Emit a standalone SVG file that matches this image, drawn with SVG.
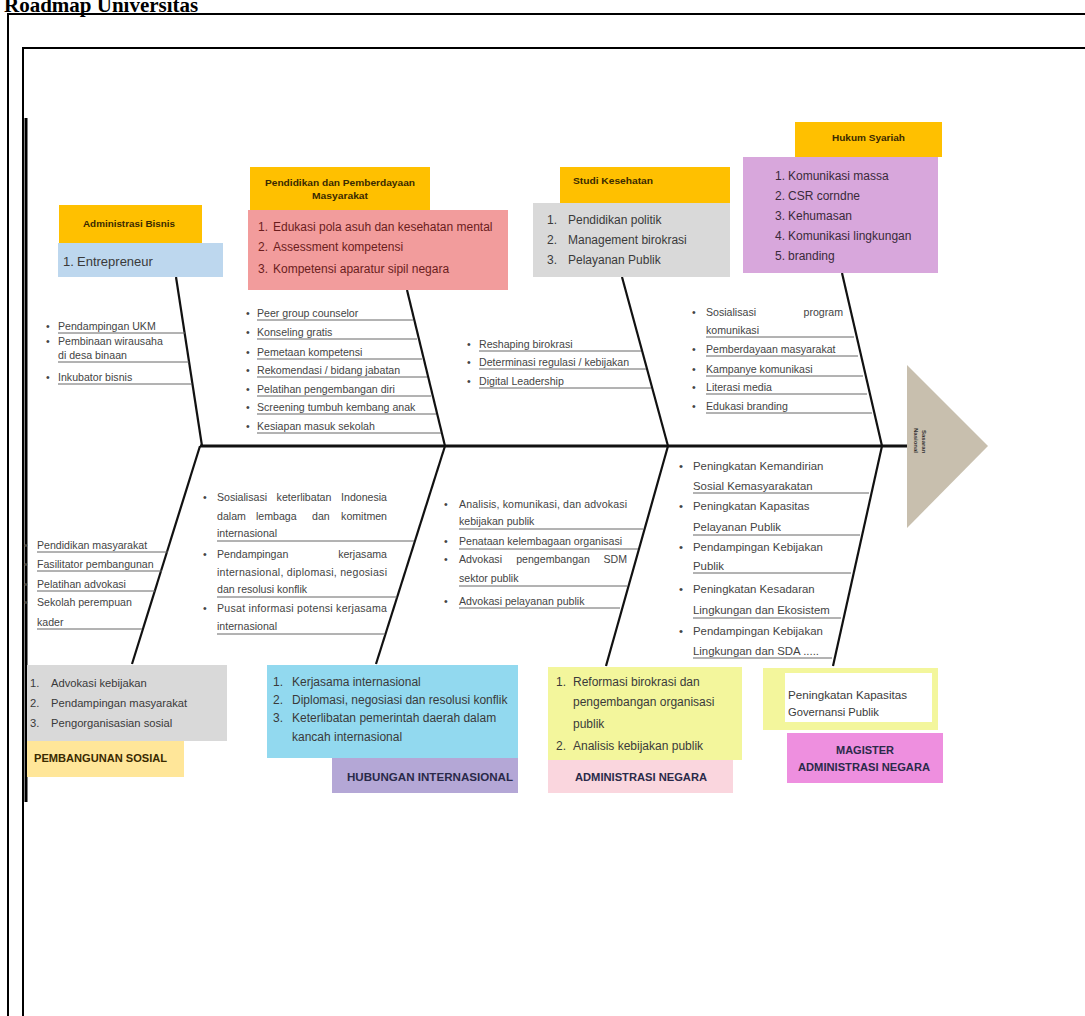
<svg xmlns="http://www.w3.org/2000/svg" width="1085" height="1016" viewBox="0 0 1085 1016">
<style>
text{font-family:"Liberation Sans",Arial,sans-serif;}
.ttl{font-family:"Liberation Serif","Times New Roman",serif;font-weight:bold;font-size:21px;fill:#000;}
.frame{fill:none;stroke:#000;stroke-width:2;}
.bone{stroke:#111;stroke-width:2.2;fill:none;}
.spine{stroke:#111;stroke-width:3;}
.u{stroke:#666;stroke-width:1;}
.s{font-size:10.6px;fill:#444;}
.m{font-size:11.4px;fill:#444;}
.bi{font-size:12px;fill:#3a3a3a;}
.bs{font-size:11.2px;fill:#3a3a3a;}
.lab{font-size:8.5px;font-weight:bold;fill:#3a2a00;}
.big{font-size:11px;font-weight:bold;fill:#2a2a4a;}
</style>
<text class="ttl" x="4" y="12">Roadmap Universitas</text>
<rect class="frame" x="8" y="14" width="1090" height="1020"/>
<rect class="frame" x="23" y="48" width="1075" height="980"/>
<line x1="26" y1="118" x2="26" y2="802" stroke="#000" stroke-width="3"/>

<g id="connectors">
<line class="spine" x1="200" y1="446" x2="907" y2="446"/>
<line class="bone" x1="176" y1="277" x2="202" y2="446"/>
<line class="bone" x1="407" y1="290" x2="445" y2="446"/>
<line class="bone" x1="622" y1="277" x2="668" y2="446"/>
<line class="bone" x1="842" y1="273" x2="882" y2="446"/>
<line class="bone" x1="200" y1="446" x2="132" y2="664"/>
<line class="bone" x1="445" y1="446" x2="376" y2="664"/>
<line class="bone" x1="668" y1="446" x2="606" y2="666"/>
<line class="bone" x1="882" y1="446" x2="833" y2="666"/>
</g>

<g id="head">
<polygon points="907,365 988,446 907,528" fill="#c8bfae"/>
<text transform="translate(922,430) rotate(90)" style="font-size:6px;font-weight:bold;fill:#333">Sasaran</text>
<text transform="translate(914,428) rotate(90)" style="font-size:6px;font-weight:bold;fill:#333">Nasional</text>
</g>

<g id="node-administrasi-bisnis">
<rect x="59" y="205" width="143" height="38" fill="#ffc000"/>
<text class="lab" x="83" y="227" textLength="92" lengthAdjust="spacingAndGlyphs">Administrasi Bisnis</text>
<rect x="58" y="243" width="165" height="34" fill="#bdd7ee"/>
<text class="bi" x="63" y="266" style="font-size:13px">1.</text><text class="bi" x="77" y="266" style="font-size:13px">Entrepreneur</text>
</g>
<g id="items-administrasi-bisnis">
<text class="s" x="46" y="330">•</text><text class="s" x="58" y="330">Pendampingan UKM</text>
<line class="u" x1="58" y1="333" x2="185" y2="333"/>
<text class="s" x="46" y="345">•</text><text class="s" x="58" y="345">Pembinaan wirausaha</text>
<text class="s" x="58" y="359">di desa binaan</text>
<line class="u" x1="58" y1="362" x2="189" y2="362"/>
<text class="s" x="46" y="381">•</text><text class="s" x="58" y="381">Inkubator bisnis</text>
<line class="u" x1="58" y1="384" x2="192" y2="384"/>
</g>

<g id="node-pendidikan">
<rect x="250" y="167" width="180" height="43" fill="#ffc000"/>
<text class="lab" x="265" y="186" textLength="150" lengthAdjust="spacingAndGlyphs">Pendidikan dan Pemberdayaan</text>
<text class="lab" x="312" y="199" textLength="56" lengthAdjust="spacingAndGlyphs">Masyarakat</text>
<rect x="248" y="210" width="260" height="80" fill="#f29c9c"/>
<text class="bi" x="258" y="231" style="fill:#6b1d1d">1.</text><text class="bi" x="273" y="231" style="fill:#6b1d1d">Edukasi pola asuh dan kesehatan mental</text>
<text class="bi" x="258" y="251" style="fill:#6b1d1d">2.</text><text class="bi" x="273" y="251" style="fill:#6b1d1d">Assessment kompetensi</text>
<text class="bi" x="258" y="273" style="fill:#6b1d1d">3.</text><text class="bi" x="273" y="273" style="fill:#6b1d1d">Kompetensi aparatur sipil negara</text>
</g>
<g id="items-pendidikan">
<text class="s" x="246" y="317">•</text><text class="s" x="257" y="317">Peer group counselor</text>
<line class="u" x1="257" y1="320" x2="413" y2="320"/>
<text class="s" x="246" y="336">•</text><text class="s" x="257" y="336">Konseling gratis</text>
<line class="u" x1="257" y1="339" x2="417" y2="339"/>
<text class="s" x="246" y="356">•</text><text class="s" x="257" y="356">Pemetaan kompetensi</text>
<line class="u" x1="257" y1="359" x2="422" y2="359"/>
<text class="s" x="246" y="374">•</text><text class="s" x="257" y="374">Rekomendasi / bidang jabatan</text>
<line class="u" x1="257" y1="377" x2="427" y2="377"/>
<text class="s" x="246" y="393">•</text><text class="s" x="257" y="393">Pelatihan pengembangan diri</text>
<line class="u" x1="257" y1="396" x2="431" y2="396"/>
<text class="s" x="246" y="411">•</text><text class="s" x="257" y="411">Screening tumbuh kembang anak</text>
<line class="u" x1="257" y1="414" x2="436" y2="414"/>
<text class="s" x="246" y="430">•</text><text class="s" x="257" y="430">Kesiapan masuk sekolah</text>
<line class="u" x1="257" y1="433" x2="441" y2="433"/>
</g>

<g id="node-studi-kesehatan">
<rect x="560" y="167" width="170" height="36" fill="#ffc000"/>
<text class="lab" x="573" y="184" textLength="80" lengthAdjust="spacingAndGlyphs">Studi Kesehatan</text>
<rect x="533" y="203" width="197" height="74" fill="#d9d9d9"/>
<text class="bi" x="547" y="224">1.</text><text class="bi" x="568" y="224">Pendidikan politik</text>
<text class="bi" x="547" y="244">2.</text><text class="bi" x="568" y="244">Management birokrasi</text>
<text class="bi" x="547" y="264">3.</text><text class="bi" x="568" y="264">Pelayanan Publik</text>
</g>
<g id="items-studi-kesehatan">
<text class="s" x="467" y="348">•</text><text class="s" x="479" y="348">Reshaping birokrasi</text>
<line class="u" x1="479" y1="351" x2="641" y2="351"/>
<text class="s" x="467" y="366">•</text><text class="s" x="479" y="366">Determinasi regulasi / kebijakan</text>
<line class="u" x1="479" y1="369" x2="646" y2="369"/>
<text class="s" x="467" y="385">•</text><text class="s" x="479" y="385">Digital Leadership</text>
<line class="u" x1="479" y1="388" x2="651" y2="388"/>
</g>

<g id="node-hukum-syariah">
<rect x="795" y="122" width="147" height="35" fill="#ffc000"/>
<text class="lab" x="832" y="141" textLength="73" lengthAdjust="spacingAndGlyphs">Hukum Syariah</text>
<rect x="743" y="157" width="195" height="116" fill="#d8a7dc"/>
<text class="bi" x="775" y="180" style="fill:#3a2a3a">1.</text><text class="bi" x="788" y="180" style="fill:#3a2a3a">Komunikasi massa</text>
<text class="bi" x="775" y="200" style="fill:#3a2a3a">2.</text><text class="bi" x="788" y="200" style="fill:#3a2a3a">CSR corndne</text>
<text class="bi" x="775" y="220" style="fill:#3a2a3a">3.</text><text class="bi" x="788" y="220" style="fill:#3a2a3a">Kehumasan</text>
<text class="bi" x="775" y="240" style="fill:#3a2a3a">4.</text><text class="bi" x="788" y="240" style="fill:#3a2a3a">Komunikasi lingkungan</text>
<text class="bi" x="775" y="260" style="fill:#3a2a3a">5.</text><text class="bi" x="788" y="260" style="fill:#3a2a3a">branding</text>
</g>
<g id="items-hukum-syariah">
<text class="s" x="692" y="316">•</text><text class="s" x="706" y="316">Sosialisasi</text><text class="s" x="843" y="316" text-anchor="end">program</text>
<text class="s" x="706" y="334">komunikasi</text>
<line class="u" x1="706" y1="337" x2="854" y2="337"/>
<text class="s" x="692" y="353">•</text><text class="s" x="706" y="353">Pemberdayaan masyarakat</text>
<line class="u" x1="706" y1="356" x2="858" y2="356"/>
<text class="s" x="692" y="373">•</text><text class="s" x="706" y="373">Kampanye komunikasi</text>
<line class="u" x1="706" y1="376" x2="863" y2="376"/>
<text class="s" x="692" y="391">•</text><text class="s" x="706" y="391">Literasi media</text>
<line class="u" x1="706" y1="394" x2="867" y2="394"/>
<text class="s" x="692" y="410">•</text><text class="s" x="706" y="410">Edukasi branding</text>
<line class="u" x1="706" y1="413" x2="872" y2="413"/>
</g>

<g id="items-pembangunan-sosial">
<text class="s" x="24" y="549">•</text><text class="s" x="37" y="549">Pendidikan masyarakat</text>
<line class="u" x1="37" y1="552" x2="168" y2="552"/>
<text class="s" x="24" y="568">•</text><text class="s" x="37" y="568">Fasilitator pembangunan</text>
<line class="u" x1="37" y1="571" x2="162" y2="571"/>
<text class="s" x="24" y="588">•</text><text class="s" x="37" y="588">Pelatihan advokasi</text>
<line class="u" x1="37" y1="591" x2="155" y2="591"/>
<text class="s" x="24" y="606">•</text><text class="s" x="37" y="606">Sekolah perempuan</text>
<text class="s" x="37" y="626">kader</text>
<line class="u" x1="37" y1="629" x2="142" y2="629"/>
</g>
<g id="node-pembangunan-sosial">
<rect x="27" y="665" width="200" height="76" fill="#d9d9d9"/>
<text class="bs" x="30" y="687">1.</text><text class="bs" x="51" y="687">Advokasi kebijakan</text>
<text class="bs" x="30" y="707">2.</text><text class="bs" x="51" y="707">Pendampingan masyarakat</text>
<text class="bs" x="30" y="727">3.</text><text class="bs" x="51" y="727">Pengorganisasian sosial</text>
<rect x="27" y="741" width="157" height="36" fill="#ffe699"/>
<text class="big" x="34" y="762" style="fill:#3a2a00" textLength="133" lengthAdjust="spacingAndGlyphs">PEMBANGUNAN SOSIAL</text>
</g>

<g id="items-hubungan-internasional">
<text class="s" x="203" y="501">•</text><text class="s" x="217" y="501">Sosialisasi</text><text class="s" x="304" y="501" text-anchor="middle">keterlibatan</text><text class="s" x="387" y="501" text-anchor="end">Indonesia</text>
<text class="s" x="217" y="520">dalam</text><text class="s" x="256" y="520">lembaga</text><text class="s" x="312" y="520">dan</text><text class="s" x="387" y="520" text-anchor="end">komitmen</text>
<text class="s" x="217" y="537">internasional</text>
<line class="u" x1="217" y1="541" x2="414" y2="541"/>
<text class="s" x="203" y="558">•</text><text class="s" x="217" y="558">Pendampingan</text><text class="s" x="387" y="558" text-anchor="end">kerjasama</text>
<text class="s" x="217" y="576" textLength="170" lengthAdjust="spacing">internasional, diplomasi, negosiasi</text>
<text class="s" x="217" y="593">dan resolusi konflik</text>
<line class="u" x1="217" y1="597" x2="397" y2="597"/>
<text class="s" x="203" y="612">•</text><text class="s" x="217" y="612" textLength="170" lengthAdjust="spacing">Pusat informasi potensi kerjasama</text>
<text class="s" x="217" y="630">internasional</text>
<line class="u" x1="217" y1="634" x2="385" y2="634"/>
</g>
<g id="node-hubungan-internasional">
<rect x="267" y="665" width="251" height="93" fill="#92d9ef"/>
<text class="bi" x="273" y="686">1.</text><text class="bi" x="292" y="686">Kerjasama internasional</text>
<text class="bi" x="273" y="704">2.</text><text class="bi" x="292" y="704">Diplomasi, negosiasi dan resolusi konflik</text>
<text class="bi" x="273" y="722">3.</text><text class="bi" x="292" y="722">Keterlibatan pemerintah daerah dalam</text>
<text class="bi" x="292" y="741">kancah internasional</text>
<rect x="332" y="758" width="186" height="35" fill="#b4a7d6"/>
<text class="big" x="347" y="781" textLength="166" lengthAdjust="spacingAndGlyphs">HUBUNGAN INTERNASIONAL</text>
</g>

<g id="items-administrasi-negara">
<text class="s" x="444" y="508">•</text><text class="s" x="459" y="508" textLength="168" lengthAdjust="spacing">Analisis, komunikasi, dan advokasi</text>
<text class="s" x="459" y="525">kebijakan publik</text>
<line class="u" x1="459" y1="529" x2="643" y2="529"/>
<text class="s" x="444" y="545">•</text><text class="s" x="459" y="545">Penataan kelembagaan organisasi</text>
<line class="u" x1="459" y1="549" x2="638" y2="549"/>
<text class="s" x="444" y="563">•</text><text class="s" x="459" y="563">Advokasi</text><text class="s" x="553" y="563" text-anchor="middle">pengembangan</text><text class="s" x="627" y="563" text-anchor="end">SDM</text>
<text class="s" x="459" y="582">sektor publik</text>
<line class="u" x1="459" y1="586" x2="627" y2="586"/>
<text class="s" x="444" y="605">•</text><text class="s" x="459" y="605">Advokasi pelayanan publik</text>
<line class="u" x1="459" y1="608" x2="620" y2="608"/>
</g>
<g id="node-administrasi-negara">
<rect x="548" y="667" width="194" height="93" fill="#f3f69c"/>
<text class="bi" x="556" y="686">1.</text><text class="bi" x="573" y="686">Reformasi birokrasi dan</text>
<text class="bi" x="573" y="706">pengembangan organisasi</text>
<text class="bi" x="573" y="728">publik</text>
<text class="bi" x="556" y="750">2.</text><text class="bi" x="573" y="750">Analisis kebijakan publik</text>
<rect x="548" y="760" width="185" height="33" fill="#fad6de"/>
<text class="big" x="575" y="781" textLength="132" lengthAdjust="spacingAndGlyphs">ADMINISTRASI NEGARA</text>
</g>

<g id="items-magister">
<text class="m" x="679" y="470">•</text><text class="m" x="693" y="470">Peningkatan Kemandirian</text>
<text class="m" x="693" y="490">Sosial Kemasyarakatan</text>
<line class="u" x1="693" y1="493" x2="869" y2="493"/>
<text class="m" x="679" y="510">•</text><text class="m" x="693" y="510">Peningkatan Kapasitas</text>
<text class="m" x="693" y="531">Pelayanan Publik</text>
<line class="u" x1="693" y1="535" x2="860" y2="535"/>
<text class="m" x="679" y="551">•</text><text class="m" x="693" y="551">Pendampingan Kebijakan</text>
<text class="m" x="693" y="570">Publik</text>
<line class="u" x1="693" y1="573" x2="851" y2="573"/>
<text class="m" x="679" y="593">•</text><text class="m" x="693" y="593">Peningkatan Kesadaran</text>
<text class="m" x="693" y="614">Lingkungan dan Ekosistem</text>
<line class="u" x1="693" y1="618" x2="841" y2="618"/>
<text class="m" x="679" y="635">•</text><text class="m" x="693" y="635">Pendampingan Kebijakan</text>
<text class="m" x="693" y="655">Lingkungan dan SDA .....</text>
<line class="u" x1="693" y1="658" x2="832" y2="658"/>
</g>
<g id="node-magister">
<rect x="763" y="668" width="175" height="62" fill="#f3f69c"/>
<rect x="785" y="673" width="147" height="49" fill="#ffffff"/>
<text class="bs" x="788" y="699" textLength="119" lengthAdjust="spacingAndGlyphs">Peningkatan Kapasitas</text>
<text class="bs" x="788" y="716">Governansi Publik</text>
<rect x="787" y="733" width="156" height="50" fill="#ee8fdf"/>
<text class="big" x="865" y="754" text-anchor="middle">MAGISTER</text>
<text class="big" x="798" y="771" textLength="132" lengthAdjust="spacingAndGlyphs">ADMINISTRASI NEGARA</text>
</g>
</svg>
